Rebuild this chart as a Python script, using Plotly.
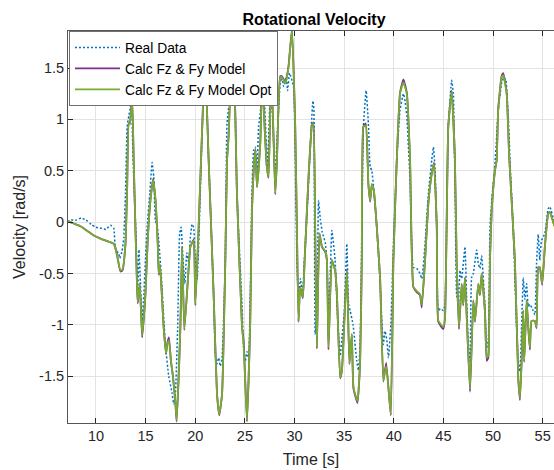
import plotly.graph_objects as go

# Time base (s) of the model traces
t_model = [
    7.16, 8.44, 9.78, 10.45, 11.79, 11.96, 12.16, 12.46, 12.67, 12.97, 13.14, 13.30, 13.40, 13.64,
    13.80, 13.97, 14.14, 14.21, 14.41, 14.65, 14.98, 15.21, 15.48, 15.75, 15.99, 16.22, 16.32,
    16.42, 16.55, 16.80, 17.05, 17.20, 17.35, 17.55, 17.75, 18.00, 18.12, 18.50, 18.67, 18.90,
    19.34, 19.51, 19.84, 20.01, 20.34, 20.85, 21.00, 21.35, 21.85, 22.19, 22.42, 22.70, 23.03,
    23.20, 23.36, 23.53, 23.70, 23.90, 24.20, 24.71, 24.87, 25.21, 25.54, 25.71, 25.88, 26.05,
    26.22, 26.55, 26.72, 26.85, 27.00, 27.20, 27.38, 27.56, 27.73, 28.06, 28.23, 28.56, 28.73,
    29.06, 29.23, 29.40, 29.74, 30.07, 30.24, 30.40, 30.57, 30.84, 31.02, 31.41, 31.75, 31.91,
    32.08, 32.25, 32.51, 32.76, 33.09, 33.26, 33.42, 33.76, 34.09, 34.27, 34.60, 34.77, 35.27,
    35.53, 35.77, 35.94, 36.34, 36.61, 36.78, 36.94, 37.18, 37.44, 37.62, 37.79, 38.00, 38.29,
    38.62, 38.95, 39.23, 39.46, 39.70, 39.96, 40.30, 40.63, 40.97, 41.31, 41.64, 41.97, 42.31,
    42.64, 42.82, 43.15, 43.48, 43.82, 44.05, 44.33, 44.49, 44.99, 45.16, 45.49, 45.83, 46.16,
    46.33, 46.57, 46.84, 47.00, 47.17, 47.34, 47.68, 48.01, 48.18, 48.51, 48.68, 48.85, 49.18,
    49.36, 49.52, 49.69, 49.86, 50.19, 50.36, 50.52, 50.86, 51.03, 51.37, 51.63, 52.20, 52.54,
    52.71, 52.88, 53.04, 53.14, 53.38, 53.55, 53.71, 53.88, 54.21, 54.38, 54.55, 54.71, 54.95,
    55.22, 55.55, 55.72, 56.13, 56.50,
]

# Calc Fz & Fy Model Opt (rad/s)
v_model_opt = [
    0.01, -0.04, -0.13, -0.16, -0.21, -0.25, -0.34, -0.47, -0.46, -0.21, 0.34, 0.96, 0.95, 1.20,
    0.60, -0.05, -0.63, -0.78, -0.60, -1.10, -0.70, -0.18, 0.21, 0.41, 0.22, -0.21, -0.50,
    -0.41, -0.55, -1.00, -1.28, -1.18, -1.15, -1.35, -1.50, -1.75, -1.93, -1.02, -0.24, -1.04,
    -0.44, -0.24, -0.18, -0.80, -0.05, 1.32, 1.55, 0.60, -0.70, -1.67, -1.87, -1.67, -0.37,
    0.60, 0.83, 1.25, 1.35, 1.55, 0.28, -1.02, -1.19, -1.93, -0.96, 0.11, 0.50, 0.70,
    0.34, 0.76, 1.25, 1.20, 0.90, 0.55, 0.44, 1.09, 1.30, 0.28, 0.60, 1.41, 1.41,
    1.35, 1.41, 1.51, 1.87, 0.93, -0.05, -0.96, -0.63, -0.73, -0.37, 0.44, 0.93, 0.96,
    -0.05, -1.22, -0.11, -0.24, -0.28, -0.37, -1.22, -0.37, -0.47, -0.70, -1.51, -1.45, -0.47,
    -1.38, -1.09, -1.61, -1.74, -1.35, -0.37, 0.93, 0.94, 0.37, 0.21, 0.37, 0.30, -0.05,
    -0.54, -1.54, -1.40, -1.61, -1.87, -0.37, 0.60, 1.25, 1.36, 1.25, 0.60, -0.63, -0.67,
    -0.70, -0.80, -0.37, 0.18, 0.47, 0.57, -0.05, -0.96, -1.02, -0.93, 0.93, 1.27, 0.60,
    -0.37, -1.02, -0.60, -0.80, -0.54, -0.90, -1.62, -0.76, -0.96, -0.60, -0.70, -0.50, -0.86,
    -1.32, -1.30, -0.37, 0.11, 0.50, 0.60, 1.09, 1.41, 1.43, 1.25, 0.63, -0.37, -1.51,
    -1.71, -1.35, -0.86, -1.35, -0.76, -1.02, -1.22, -0.96, -0.96, -1.02, -0.44, -0.44, -0.60,
    -0.24, 0.08, 0.10, -0.02, -0.10,
]

# Calc Fz & Fy Model (rad/s)
v_model = [
    0.01, -0.04, -0.13, -0.16, -0.21, -0.25, -0.34, -0.48, -0.47, -0.21, 0.34, 0.96, 0.96, 1.22,
    0.60, -0.05, -0.63, -0.79, -0.60, -1.12, -0.70, -0.18, 0.21, 0.42, 0.22, -0.21, -0.51,
    -0.41, -0.56, -1.00, -1.28, -1.17, -1.12, -1.35, -1.50, -1.76, -1.94, -1.02, -0.24, -1.05,
    -0.44, -0.24, -0.17, -0.81, -0.05, 1.32, 1.56, 0.60, -0.70, -1.67, -1.88, -1.67, -0.37,
    0.60, 0.84, 1.25, 1.35, 1.56, 0.28, -1.02, -1.15, -1.94, -0.96, 0.11, 0.50, 0.71,
    0.34, 0.78, 1.26, 1.21, 0.90, 0.55, 0.43, 1.10, 1.31, 0.27, 0.60, 1.42, 1.42,
    1.36, 1.42, 1.52, 1.88, 0.93, -0.05, -0.97, -0.63, -0.74, -0.37, 0.44, 0.94, 0.97,
    -0.05, -1.23, -0.11, -0.24, -0.29, -0.37, -1.24, -0.37, -0.47, -0.70, -1.52, -1.45, -0.46,
    -1.38, -1.09, -1.62, -1.76, -1.35, -0.37, 0.93, 0.96, 0.37, 0.20, 0.37, 0.30, -0.05,
    -0.54, -1.55, -1.37, -1.61, -1.88, -0.37, 0.60, 1.26, 1.39, 1.26, 0.60, -0.63, -0.68,
    -0.71, -0.83, -0.37, 0.18, 0.47, 0.58, -0.05, -0.97, -1.04, -0.93, 0.93, 1.28, 0.60,
    -0.37, -1.04, -0.60, -0.81, -0.54, -0.90, -1.65, -0.76, -0.97, -0.60, -0.71, -0.50, -0.87,
    -1.35, -1.32, -0.37, 0.11, 0.50, 0.60, 1.10, 1.42, 1.45, 1.26, 0.63, -0.37, -1.52,
    -1.73, -1.35, -0.86, -1.36, -0.76, -1.03, -1.24, -0.96, -0.96, -1.03, -0.44, -0.44, -0.61,
    -0.24, 0.08, 0.10, -0.02, -0.10,
]

# Measured rotational velocity
t_real = [
    7.16, 7.50, 8.00, 8.50, 9.00, 9.50, 10.00, 10.50, 11.00, 11.46, 11.79, 11.96, 12.29, 12.40,
    12.63, 12.80, 12.97, 13.14, 13.30, 13.47, 13.57, 13.74, 14.07, 14.20, 14.33, 14.47, 14.65,
    14.82, 14.98, 15.15, 15.42, 15.65, 15.82, 15.99, 16.15, 16.32, 16.60, 16.99, 17.33, 17.66,
    17.83, 18.00, 18.23, 18.43, 18.57, 18.77, 18.95, 19.15, 19.35, 19.50, 19.68, 19.84, 20.01,
    20.20, 20.40, 20.85, 21.00, 21.35, 21.85, 22.02, 22.19, 22.36, 22.52, 22.70, 23.03, 23.20,
    23.53, 23.70, 23.90, 24.20, 24.71, 24.87, 25.04, 25.21, 25.38, 25.54, 25.71, 25.88, 26.05,
    26.22, 26.38, 26.55, 26.72, 26.89, 27.05, 27.29, 27.49, 27.63, 27.83, 28.06, 28.30, 28.56,
    28.73, 28.90, 29.16, 29.30, 29.50, 29.90, 30.07, 30.24, 30.40, 30.60, 30.80, 31.00, 31.30,
    31.50, 31.70, 31.85, 31.95, 32.00, 32.08, 32.25, 32.42, 32.60, 32.80, 33.10, 33.26, 33.42,
    33.60, 33.76, 34.09, 34.30, 34.60, 34.80, 35.00, 35.27, 35.45, 35.60, 35.90, 36.27, 36.44,
    36.61, 36.78, 36.94, 37.21, 37.44, 37.62, 37.79, 38.00, 38.29, 38.62, 38.95, 39.12, 39.30,
    39.46, 39.70, 39.96, 40.30, 40.63, 40.97, 41.10, 41.31, 41.64, 41.97, 42.31, 42.64, 42.82,
    43.15, 43.48, 43.82, 43.99, 44.15, 44.33, 44.49, 44.70, 44.99, 45.16, 45.49, 45.83, 46.00,
    46.16, 46.33, 46.50, 46.67, 46.84, 47.17, 47.34, 47.51, 47.68, 47.84, 48.01, 48.35, 48.51,
    48.68, 48.85, 49.18, 49.36, 49.52, 49.69, 49.86, 50.19, 50.36, 50.52, 50.86, 51.09, 51.29,
    51.53, 51.75, 52.03, 52.37, 52.54, 52.71, 52.88, 53.04, 53.21, 53.38, 53.55, 53.71, 54.04,
    54.21, 54.38, 54.55, 54.71, 54.88, 55.22, 55.55, 55.72, 56.13, 56.50,
]

v_real = [
    0.00, 0.02, 0.02, 0.04, 0.02, -0.02, -0.05, -0.06, -0.07, -0.03, -0.06, -0.26, -0.31, -0.35,
    -0.28, -0.15, 0.28, 0.93, 1.03, 1.12, 1.18, 0.60, -0.24, -0.70, -0.27, -0.58, -0.96,
    -0.70, -0.37, -0.05, 0.28, 0.58, 0.44, 0.01, -0.02, -0.18, -0.55, -1.19, -1.50, -1.66,
    -1.77, -1.67, -1.02, -0.11, -0.05, -0.37, -0.60, -0.30, -0.40, -0.15, -0.02, -0.05, -0.37,
    -0.55, -0.05, 1.32, 1.50, 0.60, -0.70, -1.30, -1.38, -1.32, -1.40, -1.32, -0.37, 0.96,
    1.25, 1.35, 1.50, 0.28, -0.80, -1.22, -1.35, -1.26, -1.33, -0.70, 0.28, 0.70, 0.73,
    0.50, 0.93, 1.06, 1.25, 1.35, 1.00, 0.54, 1.10, 1.32, 0.93, 0.47, 0.93, 1.35,
    1.41, 1.32, 1.41, 1.28, 1.45, 1.32, 0.60, -0.37, -0.75, -0.55, -0.72, -0.35, 0.15,
    0.55, 0.95, 1.18, 1.10, 0.30, -1.09, -0.90, 0.21, 0.03, -0.10, -0.20, -0.37, -0.96,
    -0.50, -0.08, -0.37, -0.85, -1.30, -1.10, -0.90, -0.21, -0.80, -0.86, -1.00, -1.35, -1.44,
    -1.19, -0.05, 0.93, 1.28, 0.96, 0.54, 0.50, 0.30, -0.05, -0.60, -1.19, -1.06, -1.15,
    -1.32, -1.00, -0.21, 0.60, 1.09, 1.25, 1.20, 1.03, 0.40, -0.44, -0.45, -0.50, -0.55,
    -0.21, 0.28, 0.60, 0.73, 0.53, -0.05, -0.86, -0.84, -0.86, -0.80, 0.93, 1.38, 1.25,
    0.40, -0.70, -0.80, -0.47, -0.55, -0.24, -0.75, -1.19, -1.35, -0.54, -0.50, -0.27, -0.40,
    -0.45, -0.33, -0.80, -1.22, -1.15, -0.05, 0.20, 0.57, 0.83, 1.09, 1.35, 1.41, 1.38,
    1.03, 0.50, -0.05, -1.02, -1.35, -1.45, -1.00, -0.54, -0.75, -0.60, -0.82, -0.80, -0.86,
    -0.90, -0.41, -0.12, -0.37, -0.18, -0.11, 0.13, 0.15, 0.02, -0.05,
]

x_ticks = [10, 15, 20, 25, 30, 35, 40, 45, 50, 55]
y_ticks = [-1.5, -1, -0.5, 0, 0.5, 1, 1.5]
y_tick_text = ["-1.5", "-1", "-0.5", "0", "0.5", "1", "1.5"]

BLUE = "#0072BD"
PURPLE = "#7E2F8E"
GREEN = "#77AC30"
FONT = "Liberation Sans, Arial, sans-serif"
INK = "#262626"

fig = go.Figure()
fig.add_trace(go.Scatter(
    x=t_real, y=v_real, mode="lines", name="Real Data",
    line=dict(color=BLUE, width=1.5, dash="2px,2px", shape="spline", smoothing=0.4),
))
fig.add_trace(go.Scatter(
    x=t_model, y=v_model, mode="lines", name="Calc Fz &amp; Fy Model",
    line=dict(color=PURPLE, width=1.8, shape="spline", smoothing=0.4),
))
fig.add_trace(go.Scatter(
    x=t_model, y=v_model_opt, mode="lines", name="Calc Fz &amp; Fy Model Opt",
    line=dict(color=GREEN, width=1.8, shape="spline", smoothing=0.4),
))

fig.update_layout(
    width=554, height=470,
    margin=dict(l=67.5, r=0, t=31, b=47, pad=0),
    paper_bgcolor="white", plot_bgcolor="white",
    font=dict(family=FONT, size=14.5, color=INK),
    title=dict(
        text="<b>Rotational Velocity</b>", font=dict(size=16, color="black"),
        x=314 / 554, xanchor="center", xref="container",
        y=1 - 19 / 470, yanchor="middle", yref="container",
    ),
    showlegend=True,
    legend=dict(
        x=0.002, y=1, xanchor="left", yanchor="top",
        bgcolor="white", bordercolor="#707070", borderwidth=1,
        font=dict(size=13.8, color="black"), tracegroupgap=0,
        itemwidth=45,
    ),
    xaxis=dict(
        range=[7.18, 56.14], tickmode="array", tickvals=x_ticks,
        ticks="inside", ticklen=5, tickcolor=INK,
        showline=True, linecolor="#555555", linewidth=1, mirror="ticks",
        showgrid=True, gridcolor="#e3e3e3", gridwidth=1, zeroline=False,
        title=dict(text="Time [s]", font=dict(size=16), standoff=10),
    ),
    yaxis=dict(
        range=[-1.954, 1.86], tickmode="array", tickvals=y_ticks, ticktext=y_tick_text,
        ticks="inside", ticklen=5, tickcolor=INK,
        showline=True, linecolor="#555555", linewidth=1, mirror=False,
        showgrid=True, gridcolor="#e3e3e3", gridwidth=1, zeroline=False,
        title=dict(text="Velocity [rad/s]", font=dict(size=16), standoff=9),
    ),
)

fig.write_html("out.html")
